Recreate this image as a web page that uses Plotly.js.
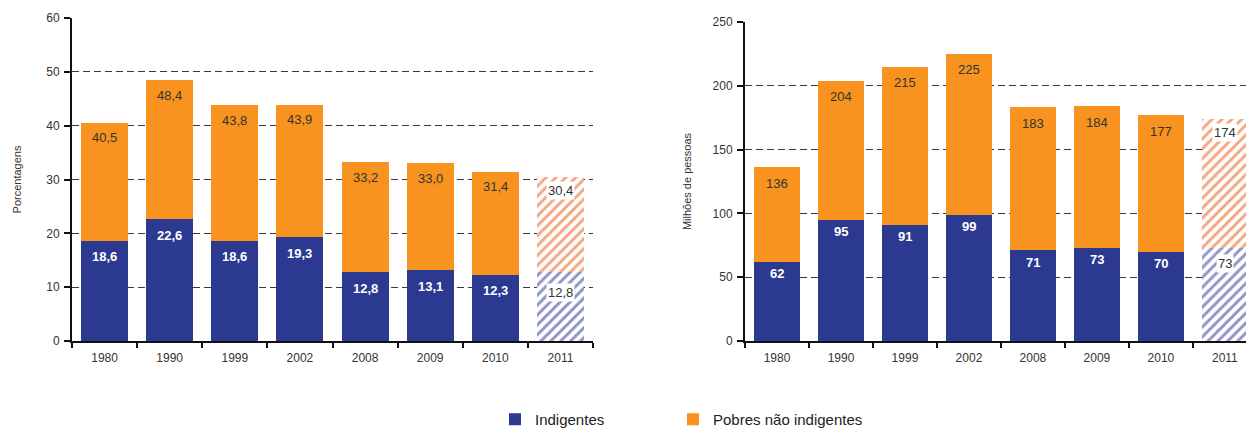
<!DOCTYPE html>
<html>
<head>
<meta charset="utf-8">
<script src="https://cdn.plot.ly/plotly-3.0.1.min.js"></script>
<style>
html,body{margin:0;padding:0;background:#fff;}
#chart{width:1246px;height:430px;}
</style>
</head>
<body>
<div id="chart"></div>
<script>
// ---- Data ----
var years = ["1980","1990","1999","2002","2008","2009","2010","2011"];
// Left panel: percentages (orange label = total poor, blue = indigent)
var pctIndigentes = [18.6, 22.6, 18.6, 19.3, 12.8, 13.1, 12.3, 12.8];
var pctPobresTotal = [40.5, 48.4, 43.8, 43.9, 33.2, 33.0, 31.4, 30.4];
// Right panel: millions of people
var milIndigentes = [62, 95, 91, 99, 71, 73, 70, 73];
var milPobresTotal = [136, 204, 215, 225, 183, 184, 177, 174];
var projected = [false, false, false, false, false, false, false, true];

var BLUE = "#2b3990", ORANGE = "#f7931e";
var BLUE_H = "#8e93c9", ORANGE_H = "#f5a57f";
var FONT = "Liberation Sans, Arial, sans-serif";

function diff(a, b){ return a.map(function(v,i){ return +(v - b[i]).toFixed(2); }); }
function pick(arr, wantProj){ return arr.filter(function(v,i){ return projected[i] === wantProj; }); }
function fmtPct(v){ return v.toFixed(1).replace(".", ","); }
function fmtInt(v){ return String(v); }

function solidTrace(name, y, color, xa, ya, showlegend, legendId){
  var t = {
    type: "bar", name: name, legendgroup: name, x: pick(years, false), y: pick(y, false),
    xaxis: xa, yaxis: ya, showlegend: showlegend, hoverinfo: "skip",
    marker: {color: color, line: {width: 0}}, width: 0.72
  };
  if (legendId) t.legend = legendId;
  return t;
}
function hatchTrace(name, y, hatch, xa, ya){
  return {
    type: "bar", name: name, legendgroup: name, x: pick(years, true), y: pick(y, true),
    xaxis: xa, yaxis: ya, showlegend: false, hoverinfo: "skip",
    marker: {color: "#ffffff", line: {width: 0},
      pattern: {shape: "/", fgcolor: hatch, bgcolor: "#ffffff", fillmode: "replace", size: 7, solidity: 0.42}},
    width: 0.72
  };
}

var pctPobres = diff(pctPobresTotal, pctIndigentes);
var milPobres = diff(milPobresTotal, milIndigentes);

var data = [
  solidTrace("Indigentes", pctIndigentes, BLUE, "x", "y", true, "legend"),
  solidTrace("Pobres não indigentes", pctPobres, ORANGE, "x", "y", true, "legend2"),
  hatchTrace("Indigentes", pctIndigentes, BLUE_H, "x", "y"),
  hatchTrace("Pobres não indigentes", pctPobres, ORANGE_H, "x", "y"),
  solidTrace("Indigentes", milIndigentes, BLUE, "x2", "y2", false),
  solidTrace("Pobres não indigentes", milPobres, ORANGE, "x2", "y2", false),
  hatchTrace("Indigentes", milIndigentes, BLUE_H, "x2", "y2"),
  hatchTrace("Pobres não indigentes", milPobres, ORANGE_H, "x2", "y2")
];

var annotations = [];
function addLabels(vals, fmt, xa, ya, isBlue, shiftNormal, shiftProj){
  vals.forEach(function(v, i){
    var p = projected[i];
    var white = isBlue && !p;
    var a = {
      x: i, y: v, xref: xa, yref: ya, text: white ? "<b>" + fmt(v) + "</b>" : fmt(v),
      showarrow: false, yshift: p ? shiftProj : shiftNormal,
      font: {family: FONT, size: 13, color: white ? "#ffffff" : "#333333"}
    };
    if (p) { a.bgcolor = "#ffffff"; a.borderpad = 1; }
    annotations.push(a);
  });
}
addLabels(pctIndigentes, fmtPct, "x", "y", true, -16, -20);
addLabels(pctPobresTotal, fmtPct, "x", "y", false, -15, -13);
addLabels(milIndigentes, fmtInt, "x2", "y2", true, -12, -16);
addLabels(milPobresTotal, fmtInt, "x2", "y2", false, -16, -14);

var H = 430, W = 1246;
function yax(domTop, range, dtick, title, standoff, anchor){
  return {
    domain: [(H-341)/H, (H-domTop)/H], range: range, dtick: dtick, anchor: anchor,
    showgrid: true, gridcolor: "#3a3a3a", griddash: "7px,4px", gridwidth: 1.3,
    zeroline: false, showline: true, linecolor: "#111", linewidth: 2,
    ticks: "outside", ticklen: 6, tickcolor: "#111", tickwidth: 2,
    tickfont: {family: FONT, size: 12, color: "#333"}, ticklabelstandoff: 2,
    title: {text: title, font: {family: FONT, size: 11, color: "#333"}, standoff: standoff},
    fixedrange: true
  };
}
function xax(d0, d1, range, anchor){
  return {
    domain: [d0, d1], range: range, anchor: anchor, type: "category",
    categoryorder: "array", categoryarray: years,
    showline: true, linecolor: "#111", linewidth: 2,
    ticks: "outside", tickson: "boundaries", ticklen: 5, tickcolor: "#111", tickwidth: 2,
    tickfont: {family: FONT, size: 12, color: "#333"}, ticklabelstandoff: 5,
    showgrid: false, zeroline: false, fixedrange: true
  };
}
function leg(xpx){
  return {
    orientation: "h", x: xpx/W, xanchor: "left", y: 27/H, yanchor: "top",
    font: {family: FONT, size: 15, color: "#222"},
    itemclick: false, bgcolor: "rgba(0,0,0,0)"
  };
}

var layout = {
  width: W, height: H,
  margin: {l: 0, r: 0, t: 0, b: 0, autoexpand: false},
  paper_bgcolor: "#ffffff", plot_bgcolor: "#ffffff",
  barmode: "stack",
  font: {family: FONT},
  xaxis: xax(72/W, 593/W, [-0.5, 7.5], "y"),
  yaxis: yax(18, [0, 60], 10, "Porcentagens", 22, "x"),
  xaxis2: xax(745/W, 1, [-0.5, 7.33], "y2"),
  yaxis2: yax(22, [0, 250], 50, "Milhões de pessoas", 19, "x2"),
  annotations: annotations,
  legend: leg(495),
  legend2: leg(673),
  showlegend: true
};

Plotly.newPlot("chart", data, layout, {displayModeBar: false, staticPlot: true});
</script>
</body>
</html>
